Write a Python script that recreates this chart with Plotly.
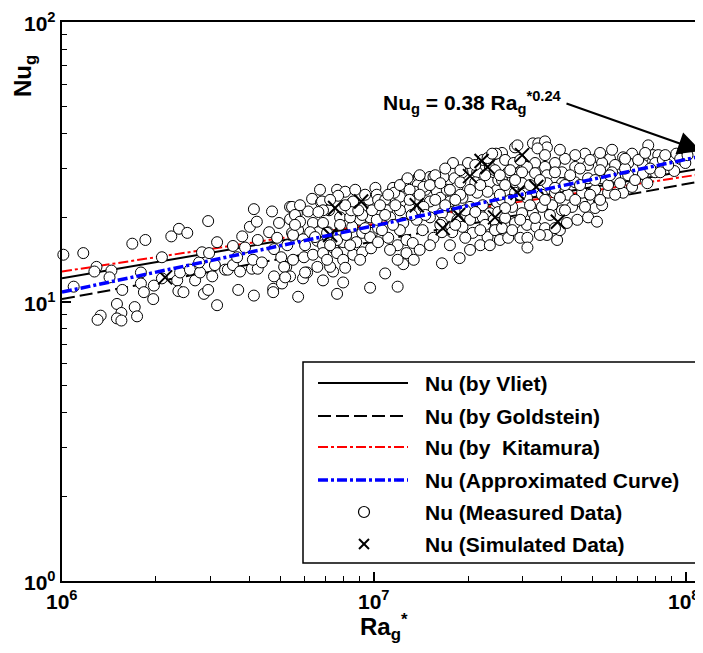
import math
import plotly.graph_objects as go

# ---------------- data ----------------
# correlation lines: Ra*_g at both ends of the plotted range, Nu_g values
ra_line = [1.0e6, 1.13e8]
nu_vliet = [12.1, 30.0]
nu_goldstein = [10.2, 27.0]
nu_kitamura = [12.8, 28.6]
nu_approx = [10.8, 33.2]

# measured data: Ra*_g in units of 1e6, Nu_g
ra_meas_m = [
    1.01, 1.17, 1.09, 1.29, 1.27, 1.44, 1.42, 1.56, 1.50, 1.55, 1.33, 1.30, 1.50, 1.55, 1.71, 1.74,
    1.68, 1.85, 1.79, 1.79, 1.83, 1.96, 1.97, 2.09, 2.24, 2.37, 2.52, 2.09, 2.34, 2.36, 2.45, 2.39,
    2.57, 2.67, 2.77, 2.75, 2.81, 2.94, 2.96, 2.85, 2.94, 3.03, 3.14, 3.14, 3.09, 3.33, 3.40, 3.53,
    3.53, 3.64, 3.67, 3.72, 3.78, 3.86, 4.00, 4.12, 4.21, 4.06, 4.24, 4.12, 4.09, 4.24, 4.37, 4.61,
    4.71, 4.78, 4.78, 4.75, 4.75, 4.96, 5.04, 5.07, 5.23, 5.38, 5.38, 5.38, 5.46, 5.50, 4.89, 5.27,
    5.15, 5.19,
    6.33, 6.76, 7.61, 8.08, 7.17, 6.15, 5.66, 5.71, 6.37, 6.63, 6.24, 5.92, 6.58, 7.12, 6.86, 7.39,
    7.96, 8.57, 8.51, 9.16, 9.78, 10.1, 9.71, 9.02, 8.51, 9.16, 9.85, 10.3, 5.96, 6.37, 6.86, 7.61,
    7.96, 8.57, 9.16, 9.78, 9.71, 7.61, 7.96, 7.39, 6.86, 5.92, 5.71, 6.10, 6.58, 7.23, 5.46, 5.58,
    7.07, 6.01, 5.79, 6.86, 7.78, 8.38, 9.16, 10.2, 5.50, 6.47, 7.07, 7.61, 8.14, 8.77, 9.71, 10.3,
    6.81, 7.67, 8.45, 8.57, 6.86, 9.64, 10.2, 10.3, 10.85,
    5.79, 6.63, 7.23, 8.08, 8.90, 9.36, 7.78, 7.23, 8.38, 9.02, 8.08, 6.01, 5.58, 6.71, 8.70, 9.36,
    17.9, 20.0, 24.2, 23.3, 22.3, 23.5, 21.4, 19.2, 12.6, 13.9, 15.1, 15.5, 16.7, 18.1, 13.8, 14.6,
    13.5, 12.8, 12.1, 11.5, 11.6, 15.9, 16.3, 17.1, 18.5, 18.9, 21.1, 23.5, 24.8, 23.1, 21.4, 19.2,
    17.5, 15.1, 14.4, 13.0, 12.1, 11.0, 9.85, 24.8, 22.3, 20.3, 18.5, 16.5, 23.5, 11.25, 12.4, 13.7,
    15.1, 16.5, 18.5, 20.3, 22.3, 24.2, 11.1, 11.9, 12.7, 13.3, 14.3, 15.5, 16.5, 17.8, 19.2, 20.7,
    23.1, 21.9, 11.25, 12.7, 13.4, 12.4, 16.5, 18.8, 10.85, 11.9, 15.7, 14.4, 23.1,
    12.1, 13.0, 14.0, 15.1, 16.3, 17.5, 18.9, 20.3, 21.9, 22.7, 24.4, 25.0, 21.1, 18.9, 16.9, 15.7,
    16.9, 18.2, 19.6, 21.1, 22.7, 24.4, 21.9, 19.6, 18.2, 16.3, 14.6, 13.2, 12.1, 11.5, 10.6, 10.85,
    11.7, 13.0, 11.1, 10.45, 14.0, 15.1, 17.5, 20.3, 23.5, 25.3, 11.9, 14.0, 12.8,
    32.3, 33.6, 35.3, 35.8, 33.4, 28.3, 25.7, 24.6, 75.6, 93.0, 72.7, 78.3, 81.4, 67.1, 62.8, 57.0,
    52.2, 47.4, 44.1, 40.9, 38.0, 35.3, 32.8, 30.9, 28.3, 26.3, 26.9, 29.8, 32.8, 35.8, 40.0, 44.1,
    48.5, 53.8, 59.2, 65.2, 72.7, 79.6, 91.6, 65.2, 59.2, 53.8, 48.5, 44.1, 40.0, 35.8, 29.8, 25.7,
    72.7, 79.6, 25.0, 26.3, 25.7, 26.9, 28.3, 30.9, 29.4, 31.0, 31.0, 33.1, 35.3, 35.8, 38.6, 39.4,
    41.5, 44.8, 48.5, 51.8, 51.1, 53.8, 46.4, 43.1, 40.0, 37.2, 34.5, 32.3, 29.8, 27.7, 25.7, 28.3,
    30.9, 34.5, 38.0, 41.8, 46.4, 51.1, 56.2, 62.8, 67.1, 28.8, 28.0, 23.9,
    53.0, 57.9, 63.7, 70.2, 76.7, 84.2, 87.6, 95.7, 99.4, 101.0, 51.1, 56.2, 61.4, 68.6, 75.1, 82.6,
    42.5, 38.0, 45.7, 49.2, 39.4, 35.3, 29.4, 27.3, 25.3, 26.3, 28.3, 31.6, 34.0, 38.0, 40.9, 45.7,
    49.2, 53.0, 59.2, 47.4, 44.1, 39.4, 35.3, 31.6, 29.4, 27.3, 25.3, 26.3, 29.4, 32.8, 36.6, 40.9,
    34.0, 38.0, 27.7, 57.0, 63.7, 73.9, 85.7, 57.9, 53.0,
]
nu_meas = [
    14.7, 14.9, 11.3, 13.3, 12.8, 12.9, 12.2, 11.0, 9.8, 9.1, 8.9, 8.6, 8.7, 8.55, 9.55, 8.85,
    16.1, 16.6, 12.7, 11.6, 10.8, 10.2, 11.4, 14.4, 17.1, 18.2, 17.6, 12.1, 11.9, 10.9, 10.8, 12.7,
    13.0, 11.9, 12.7, 13.8, 15.0, 19.4, 14.9, 10.65, 11.0, 12.3, 16.3, 9.7, 13.5, 13.0, 13.0, 13.5,
    15.8, 14.4, 11.0, 12.8, 17.1, 15.6, 18.5, 21.4, 19.3, 13.1, 13.1, 10.5, 14.1, 16.6, 13.8, 17.7,
    21.0, 15.4, 12.3, 11.1, 10.8, 19.1, 14.4, 11.6, 13.3, 21.8, 19.7, 12.3, 17.6, 14.1, 16.9, 15.9,
    13.3, 12.2,
    23.3, 22.6, 25.1, 24.7, 21.2, 21.0, 20.7, 18.0, 19.1, 17.7, 17.7, 16.7, 16.5, 17.7, 15.9, 15.6,
    16.3, 17.6, 22.6, 21.6, 22.1, 25.5, 20.0, 19.6, 18.5, 17.6, 17.6, 18.3, 14.4, 14.7, 14.9, 14.9,
    14.1, 14.7, 15.0, 15.5, 11.2, 10.65, 11.7, 12.8, 11.9, 12.1, 10.4, 12.7, 13.3, 13.3, 21.8, 20.4,
    14.1, 12.7, 19.3, 19.1, 20.0, 20.0, 20.4, 19.6, 17.3, 17.0, 17.6, 16.6, 17.3, 16.3, 17.0, 16.3,
    22.8, 23.9, 21.2, 22.8, 21.2, 23.1, 24.1, 23.1, 23.1,
    22.1, 20.9, 23.1, 22.1, 21.2, 24.1, 18.8, 15.9, 15.9, 14.1, 13.2, 15.9, 18.8, 25.1, 25.1, 18.3,
    31.3, 31.3, 33.6, 32.4, 32.1, 30.3, 29.0, 29.0, 26.7, 27.9, 27.9, 27.9, 27.9, 27.6, 26.1, 25.1,
    24.7, 24.1, 23.7, 25.5, 24.5, 24.7, 23.5, 25.1, 25.7, 26.7, 26.7, 26.7, 25.1, 24.7, 24.5, 23.5,
    22.8, 22.8, 21.8, 21.6, 21.2, 21.2, 21.2, 22.6, 22.1, 21.8, 21.2, 20.7, 20.7, 20.0, 19.1, 19.6,
    20.0, 19.1, 19.6, 19.6, 20.0, 19.6, 16.9, 15.9, 16.6, 16.2, 18.0, 16.9, 17.7, 17.7, 18.5, 17.6,
    17.0, 15.9, 15.3, 14.9, 14.1, 13.6, 13.7, 14.3, 12.6, 11.3, 28.3, 25.7, 32.6,
    26.1, 25.1, 24.1, 26.1, 26.5, 25.1, 24.1, 25.1, 26.1, 28.3, 29.5, 27.2, 30.8, 29.5, 29.9, 23.1,
    22.1, 23.1, 21.2, 20.9, 18.8, 18.0, 18.0, 16.9, 18.8, 18.8, 20.4, 20.4, 18.0, 18.8, 18.0, 20.4,
    22.1, 23.1, 24.1, 22.1, 15.3, 15.9, 15.9, 15.3, 15.9, 16.6, 14.1, 28.3, 27.6,
    36.8, 36.8, 37.4, 35.6, 35.3, 35.6, 34.0, 33.8, 36.2, 33.8, 32.8, 33.4, 33.4, 33.8, 32.8, 32.4,
    32.8, 33.8, 33.4, 32.4, 31.3, 30.3, 31.3, 30.3, 31.3, 32.1, 29.0, 29.0, 28.8, 28.3, 29.0, 30.3,
    30.8, 31.3, 30.8, 31.3, 30.8, 31.3, 29.3, 28.3, 27.9, 27.6, 27.6, 26.7, 26.5, 26.5, 26.5, 27.2,
    28.6, 29.0, 20.9, 19.9, 18.3, 16.9, 19.1, 18.8, 16.9, 16.9, 15.6, 18.5, 18.3, 17.3, 16.6, 18.0,
    19.1, 19.6, 20.0, 19.3, 21.6, 22.1, 22.6, 21.8, 21.2, 22.1, 21.8, 20.7, 20.7, 21.8, 23.1, 24.5,
    23.5, 24.1, 24.5, 24.1, 24.5, 25.1, 24.5, 24.5, 25.7, 36.2, 31.3, 33.8,
    29.5, 29.0, 29.9, 32.1, 29.9, 32.1, 30.8, 32.4, 31.3, 33.4, 27.2, 26.1, 26.5, 27.2, 26.5, 29.0,
    28.3, 29.0, 29.9, 32.1, 34.9, 33.4, 32.1, 29.5, 28.3, 26.1, 27.2, 26.1, 27.2, 25.5, 26.1, 26.1,
    24.1, 23.1, 24.1, 21.8, 23.1, 23.5, 23.1, 22.1, 24.1, 23.1, 24.1, 21.6, 19.6, 19.9, 20.4, 21.2,
    17.3, 18.3, 18.0, 28.3, 32.4, 34.0, 33.4, 34.9, 34.0,
]

# simulated data: Ra*_g in units of 1e6, Nu_g
ra_sim_m = [2.14, 7.23, 7.50, 9.09, 13.7, 16.6, 18.6, 20.3, 22.1, 23.1, 24.4, 28.8, 29.8, 33.1, 38.8]
nu_sim = [12.2, 17.3, 21.6, 22.8, 22.1, 18.3, 20.4, 28.1, 31.8, 30.3, 20.0, 24.5, 33.4, 25.7, 19.3]

x_tick_vals = [1e6, 1e7, 1e8]
x_tick_text = ["10<sup>6</sup>", "10<sup>7</sup>", "10<sup>8</sup>"]
y_tick_vals = [1, 10, 100]
y_tick_text = ["10<sup>0</sup>", "10<sup>1</sup>", "10<sup>2</sup>"]

legend_labels = [
    "Nu (by Vliet)",
    "Nu (by Goldstein)",
    "Nu (by \u00a0Kitamura)",
    "Nu (Approximated Curve)",
    "Nu (Measured Data)",
    "Nu (Simulated Data)",
]

# ---------------- figure ----------------
FONT = "Liberation Sans, Arial, sans-serif"
# the page body adds an 8 px margin, so the figure is laid out 8 px up/left
PAGE_OFF = 8
W, H = 703, 653
# plot area in page pixels: x 62..703, y 22..581
ML, MT = 62 - PAGE_OFF, 22 - PAGE_OFF
MR = W - (703 - PAGE_OFF)
MB = H - (581 - PAGE_OFF)
PW, PH = W - ML - MR, H - MT - MB

def px(xp):
    # page pixel x -> paper fraction
    return (xp - 62) / PW

def py(yp):
    # page pixel y -> paper fraction
    return (581 - yp) / PH

DASH_GOLD = "13px,5px"
DASH_KITA = "10px,3px,3px,3px"
DASH_APPROX = "10px,3px,3px,3px"

fig = go.Figure()
fig.add_trace(go.Scatter(x=ra_line, y=nu_vliet, mode="lines",
                         line=dict(color="black", width=2), name=legend_labels[0]))
fig.add_trace(go.Scatter(x=ra_line, y=nu_goldstein, mode="lines",
                         line=dict(color="black", width=2, dash=DASH_GOLD), name=legend_labels[1]))
fig.add_trace(go.Scatter(x=ra_line, y=nu_kitamura, mode="lines",
                         line=dict(color="red", width=2, dash=DASH_KITA), name=legend_labels[2]))
fig.add_trace(go.Scatter(x=[r * 1e6 for r in ra_meas_m], y=nu_meas, mode="markers",
                         cliponaxis=False,
                         marker=dict(symbol="circle", size=11, color="white",
                                     line=dict(color="black", width=1)),
                         name=legend_labels[4]))
fig.add_trace(go.Scatter(x=[r * 1e6 for r in ra_sim_m], y=nu_sim, mode="markers",
                         marker=dict(symbol="x-thin", size=14, color="black",
                                     line=dict(color="black", width=2)),
                         name=legend_labels[5]))
fig.add_trace(go.Scatter(x=ra_line, y=nu_approx, mode="lines",
                         line=dict(color="blue", width=3.5, dash=DASH_APPROX), name=legend_labels[3]))

minor_x = [k * 10 ** e for e in (6, 7) for k in range(2, 10)]
minor_y = [k * 10 ** e for e in (0, 1) for k in range(2, 10)]

fig.update_layout(
    width=W, height=H,
    margin=dict(l=ML, r=MR, t=MT, b=MB, pad=0, autoexpand=False),
    paper_bgcolor="white", plot_bgcolor="white",
    showlegend=False,
    font=dict(family=FONT, color="black"),
    xaxis=dict(type="log", range=[6, 8.054], tickmode="array", automargin=False,
               tickvals=x_tick_vals, showticklabels=False,
               ticks="inside", ticklen=9, tickwidth=1.5, tickcolor="black",
               showline=True, linecolor="black", linewidth=2, mirror=True,
               showgrid=False, zeroline=False,
               minor=dict(tickmode="array", tickvals=minor_x, ticks="inside",
                          ticklen=5, tickwidth=1, tickcolor="black", showgrid=False)),
    yaxis=dict(type="log", range=[0, 2], tickmode="array", automargin=False,
               tickvals=y_tick_vals, showticklabels=False,
               ticks="inside", ticklen=9, tickwidth=1.5, tickcolor="black",
               showline=True, linecolor="black", linewidth=2, mirror=False,
               showgrid=False, zeroline=False,
               minor=dict(tickmode="array", tickvals=minor_y, ticks="inside",
                          ticklen=5, tickwidth=1, tickcolor="black", showgrid=False)),
)

annotations = []
tick_font = dict(family=FONT, size=21, color="black")
# x tick labels placed on the axis' own (log) scale
for i, (v, t) in enumerate(zip(x_tick_vals, x_tick_text)):
    annotations.append(dict(xref="x", yref="paper", x=math.log10(v), y=py(600),
                            xshift=(-2 if i == len(x_tick_vals) - 1 else 0),
                            text="<b>" + t + "</b>", showarrow=False,
                            xanchor="center", yanchor="middle", font=tick_font))
for v, t in zip(y_tick_vals, y_tick_text):
    annotations.append(dict(xref="paper", yref="y", x=px(58), y=math.log10(v),
                            text="<b>" + t + "</b>", showarrow=False,
                            xanchor="right", yanchor="middle", font=tick_font))
# axis titles
annotations.append(dict(xref="paper", yref="paper", x=px(384), y=py(627),
                        text="<b>Ra<sub>g</sub><sup>*</sup></b>", showarrow=False,
                        xanchor="center", yanchor="middle",
                        font=dict(family=FONT, size=24, color="black")))
annotations.append(dict(xref="paper", yref="paper", x=px(25), y=py(76),
                        text="<b>Nu<sub>g</sub></b>", showarrow=False, textangle=-90,
                        xanchor="center", yanchor="middle",
                        font=dict(family=FONT, size=24, color="black")))
# formula + arrow
annotations.append(dict(xref="paper", yref="paper", x=px(381), y=py(102),
                        text="<b>Nu<sub>g</sub> = 0.38 Ra<sub>g</sub><sup>*0.24</sup></b>",
                        showarrow=False, xanchor="left", yanchor="middle",
                        font=dict(family=FONT, size=21, color="black")))
annotations.append(dict(xref="paper", yref="paper", x=px(701), y=py(151), text="",
                        showarrow=True, ax=565 - 701, ay=103 - 151, axref="pixel", ayref="pixel",
                        arrowhead=2, arrowsize=2.3, arrowwidth=2, arrowcolor="black", standoff=0))

# manual legend
shapes = [dict(type="rect", xref="paper", yref="paper", x0=px(303), x1=px(697),
               y0=py(563), y1=py(362), line=dict(color="black", width=1.5),
               fillcolor="white", layer="above")]
row_y = [383, 416, 447, 480, 512, 544]
line_styles = [dict(color="black", width=2),
               dict(color="black", width=2, dash=DASH_GOLD),
               dict(color="red", width=2, dash=DASH_KITA),
               dict(color="blue", width=3.5, dash=DASH_APPROX)]
for i, st in enumerate(line_styles):
    shapes.append(dict(type="line", xref="paper", yref="paper", x0=px(318), x1=px(408),
                       y0=py(row_y[i]), y1=py(row_y[i]), line=st, layer="above"))
mx, r = 364, 5.5
shapes.append(dict(type="circle", xref="paper", yref="paper", x0=px(mx - r), x1=px(mx + r),
                   y0=py(row_y[4] + r), y1=py(row_y[4] - r),
                   line=dict(color="black", width=1.2), fillcolor="white", layer="above"))
c = 5
shapes.append(dict(type="line", xref="paper", yref="paper", x0=px(mx - c), x1=px(mx + c),
                   y0=py(row_y[5] - c), y1=py(row_y[5] + c), line=dict(color="black", width=2), layer="above"))
shapes.append(dict(type="line", xref="paper", yref="paper", x0=px(mx - c), x1=px(mx + c),
                   y0=py(row_y[5] + c), y1=py(row_y[5] - c), line=dict(color="black", width=2), layer="above"))
for i, lab in enumerate(legend_labels):
    annotations.append(dict(xref="paper", yref="paper", x=px(423), y=py(row_y[i]),
                            text="<b>" + lab + "</b>", showarrow=False, xanchor="left", yanchor="middle",
                            font=dict(family=FONT, size=21, color="black")))

fig.update_layout(annotations=annotations, shapes=shapes)
fig.write_html("out.html")
